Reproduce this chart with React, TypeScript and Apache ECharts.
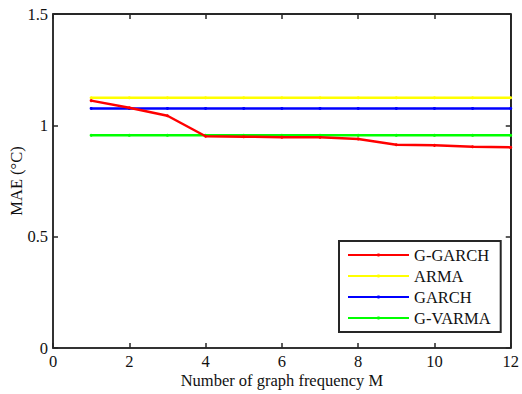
import React, { useEffect, useRef } from "react";
import * as echarts from "echarts";

const mValues = [1, 2, 3, 4, 5, 6, 7, 8, 9, 10, 11, 12];
const gGarch = [1.111, 1.079, 1.043, 0.951, 0.949, 0.947, 0.946, 0.939, 0.913, 0.91, 0.904, 0.901];
const arma = [1.124, 1.124, 1.124, 1.124, 1.124, 1.124, 1.124, 1.124, 1.124, 1.124, 1.124, 1.124];
const garch = [1.076, 1.076, 1.076, 1.076, 1.076, 1.076, 1.076, 1.076, 1.076, 1.076, 1.076, 1.076];
const gVarma = [0.955, 0.955, 0.955, 0.955, 0.955, 0.955, 0.955, 0.955, 0.955, 0.955, 0.955, 0.955];

const seriesNames = ["G-GARCH", "ARMA", "GARCH", "G-VARMA"];
const seriesColors = ["#ff0000", "#ffff00", "#0000ff", "#00ff00"];
const seriesData = [gGarch, arma, garch, gVarma];

const X_MAX = 12;
const Y_MAX = 1.5;

const FONT = "Liberation Serif";
const FS = 16.5;
const AXIS_COLOR = "#262626";

export default function App() {
  const ref = useRef<HTMLDivElement>(null);
  useEffect(() => {
    if (!ref.current) return;
    const chart = echarts.init(ref.current, undefined, { renderer: "svg" });
    const mkLine = () => ({ show: true, onZero: false, lineStyle: { color: AXIS_COLOR, width: 1.5 } });
    const mkTick = () => ({ show: true, inside: true, length: 5, lineStyle: { color: AXIS_COLOR, width: 1.5 } });
    chart.setOption({
      animation: false,
      backgroundColor: "#ffffff",
      textStyle: { fontFamily: FONT },
      grid: {
        left: 53,
        right: 9,
        top: 14,
        bottom: 45,
        containLabel: false,
        show: true,
        borderColor: AXIS_COLOR,
        borderWidth: 1.5,
        backgroundColor: "rgba(0,0,0,0)",
      },
      legend: {
        orient: "vertical",
        left: 339,
        top: 241,
        padding: [5, 10, 5, 8],
        itemWidth: 61,
        itemHeight: 4,
        itemGap: 3,
        borderColor: AXIS_COLOR,
        borderWidth: 2,
        backgroundColor: "#ffffff",
        textStyle: { fontFamily: FONT, fontSize: FS, color: "#111", lineHeight: 18 },
        data: seriesNames,
      },
      xAxis: [
        {
          type: "value",
          min: 0,
          max: X_MAX,
          interval: 2,
          name: "Number of graph frequency M",
          nameLocation: "middle",
          nameGap: 24,
          nameMoveOverlap: false,
          nameTextStyle: { fontFamily: FONT, fontSize: FS, color: "#111" },
          axisLine: mkLine(),
          axisTick: mkTick(),
          splitLine: { show: false },
          axisLabel: { fontFamily: FONT, fontSize: FS, color: "#111", margin: 5 },
        },
        {
          type: "value",
          position: "top",
          min: 0,
          max: X_MAX,
          interval: 2,
          axisLine: mkLine(),
          axisTick: mkTick(),
          splitLine: { show: false },
          axisLabel: { show: false },
        },
      ],
      yAxis: [
        {
          type: "value",
          min: 0,
          max: Y_MAX,
          interval: 0.5,
          name: "MAE (°C)",
          nameLocation: "middle",
          nameGap: 28,
          nameMoveOverlap: false,
          nameTextStyle: { fontFamily: FONT, fontSize: FS, color: "#111" },
          axisLine: mkLine(),
          axisTick: mkTick(),
          splitLine: { show: false },
          axisLabel: { fontFamily: FONT, fontSize: FS, color: "#111", margin: 5 },
        },
        {
          type: "value",
          position: "right",
          min: 0,
          max: Y_MAX,
          interval: 0.5,
          axisLine: mkLine(),
          axisTick: mkTick(),
          splitLine: { show: false },
          axisLabel: { show: false },
        },
      ],
      series: [
        ...seriesNames.map((name, i) => ({
          name,
          type: "line",
          data: mValues.map((m, j) => [m, seriesData[i][j]]),
          color: seriesColors[i],
          lineStyle: { width: 2.5, color: seriesColors[i] },
          itemStyle: { color: seriesColors[i] },
          symbol: "circle",
          symbolSize: 3,
          showSymbol: true,
          z: 10 - i,
          ...(i === 0
            ? {
                markLine: {
                  silent: true,
                  symbol: "none",
                  label: { show: false },
                  lineStyle: { color: AXIS_COLOR, width: 1.5, type: "solid" },
                  emphasis: { disabled: true },
                  data: [{ yAxis: Y_MAX }, { xAxis: X_MAX }],
                },
              }
            : {}),
        })),
        {
          type: "line",
          xAxisIndex: 1,
          yAxisIndex: 1,
          data: [[0, 0]],
          symbol: "none",
          silent: true,
        },
      ],
    });
    return () => chart.dispose();
  }, []);
  return <div ref={ref} style={{ width: 522, height: 394, position: "absolute", left: 0, top: 0 }} />;
}
